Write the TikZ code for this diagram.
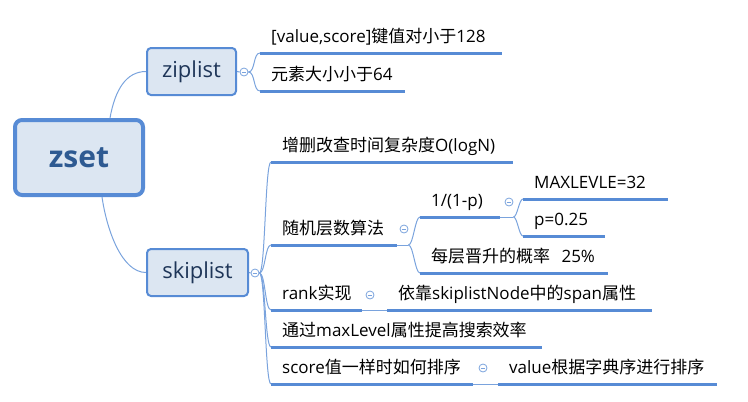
\documentclass[tikz,border=0pt]{standalone}
\usepackage{fontspec}
\usepackage{xcolor}
\usepackage{tikz}
\usetikzlibrary{backgrounds}
\newfontfamily\cjk{Noto Sans CJK SC}
\newfontfamily\lat{Open Sans}
\newcommand\la[1]{{\lat #1}} % lateinische Teile
\definecolor{Rahmen}{HTML}{578BD5}
\definecolor{Fuellung}{HTML}{DCE6F2}
\definecolor{Schrift}{HTML}{1E3558}
\definecolor{Wurzeltext}{HTML}{2E5A92}
\definecolor{Linie}{HTML}{7AA3DD}
\tikzset{
  Wurzel/.style={draw=Rahmen, line width=4pt, fill=Fuellung, rounded corners=7pt,
    minimum width=128pt, minimum height=75pt, text=Wurzeltext,
    font=\lat\bfseries\fontsize{30}{34}\selectfont}, % Hauptthema
  Ast/.style={draw=Rahmen, line width=2pt, fill=Fuellung, rounded corners=4pt,
    minimum width=#1, minimum height=47pt, text=Schrift,
    font=\lat\fontsize{22}{25}\selectfont}, % Unterthema
  Blatt/.style={anchor=south west, inner xsep=11pt, inner ysep=6pt,
    text height=13pt, text depth=4pt, text width=#1, align=left,
    font=\cjk\fontsize{17}{19}\selectfont}, % Text mit Strich
  Strich/.style={draw=Rahmen, line width=3pt},
  Verbindung/.style={draw=Linie, line width=1pt},
  Knopf/.style={circle, draw=Linie, fill=white, line width=.8pt, minimum size=8pt, inner sep=0pt,
    path picture={\draw[Linie, line width=.8pt]
      ([xshift=-2.3pt]path picture bounding box.center) -- ([xshift=2.3pt]path picture bounding box.center);}}
}
\begin{document}
\begin{tikzpicture}[x=1pt, y=-1pt]
\useasboundingbox (0,0) rectangle (748,402);

%Themen
\node[Wurzel] (zset) at (79,157.5) {zset};
\node[Ast=89pt] (ziplist) at (191.5,71.5) {ziplist};
\node[Ast=101pt] (skiplist) at (197.5,272.5) {skiplist};

%Knoepfe
\node[Knopf] (zf) at (244,72) {};
\node[Knopf] (sf) at (255,273) {};
\node[Knopf] (s2f) at (404,229) {};
\node[Knopf] (r1f) at (509,202) {};
\node[Knopf] (s3f) at (370,295) {};
\node[Knopf] (s5f) at (483,368) {};

%Blaetter ziplist
\node[Blatt=220pt] (z1) at (260,53) {\la{[value,score]}键值对小于\la{128}};
\node[Blatt=123pt] (z2) at (260,91) {元素大小小于\la{64}};

%Blaetter skiplist
\node[Blatt=220pt] (s1) at (271,162) {增删改查时间复杂度\la{O(logN)}};
\node[Blatt=104pt] (s2) at (271,245) {随机层数算法};
\node[Blatt=58pt] (r1) at (420,217) {\la{1/(1-p)}};
\node[Blatt=123pt] (m1) at (523,199) {\la{MAXLEVLE=32}};
\node[Blatt=60pt] (m2) at (523,236) {\la{p=0.25}};
\node[Blatt=166pt] (r2) at (420,273) {每层晋升的概率\la{~~25\%}};
\node[Blatt=69pt] (s3) at (271,310) {\la{rank}实现};
\node[Blatt=243pt] (k1) at (387,310) {依靠\la{skiplistNode}中的\la{span}属性};
\node[Blatt=249pt] (s4) at (271,347) {通过\la{maxLevel}属性提高搜索效率};
\node[Blatt=180pt] (s5) at (271,384) {\la{score}值一样时如何排序};
\node[Blatt=197pt] (v1) at (498,384) {\la{value}根据字典序进行排序};

\coordinate (s2j) at ([xshift=11pt]s2.south east);
\coordinate (r1j) at ([xshift=13pt]r1.south east);

%Striche
\foreach \n in {z1,z2,s1,s2,r1,m1,m2,r2,s3,k1,s4,s5,v1}
  \draw[Strich] (\n.south west) -- (\n.south east);

%Verbindungen
\begin{scope}[on background layer]
\draw[Verbindung] ([xshift=31pt]zset.north) .. controls +(5,-28) and +(-20,0) .. (ziplist.west);
\draw[Verbindung] ([xshift=23pt]zset.south) .. controls +(5,34) and +(-24,0) .. (skiplist.west);
\draw[Verbindung] (ziplist.east) -- (zf.west);
\draw[Verbindung] (skiplist.east) -- (sf.west);
\foreach \n in {z1,z2}
  \draw[Verbindung] (zf.east) .. controls +(7,0) and +(-7,0) .. (\n.south west);
\foreach \n in {s1,s2,s3,s4,s5}
  \draw[Verbindung] (sf.east) .. controls +(6,0) and +(-6,0) .. (\n.south west);
\draw[Verbindung] (s2.south east) -- (s2j);
\foreach \n in {r1,r2}
  \draw[Verbindung] (s2j) .. controls +(5,0) and +(-5,0) .. (\n.south west);
\draw[Verbindung] (r1.south east) -- (r1j);
\foreach \n in {m1,m2}
  \draw[Verbindung] (r1j) .. controls +(4,0) and +(-4,0) .. (\n.south west);
\draw[Verbindung] (s3.south east) -- (k1.south west);
\draw[Verbindung] (s5.south east) -- (v1.south west);
\end{scope}

\end{tikzpicture}
\end{document}
